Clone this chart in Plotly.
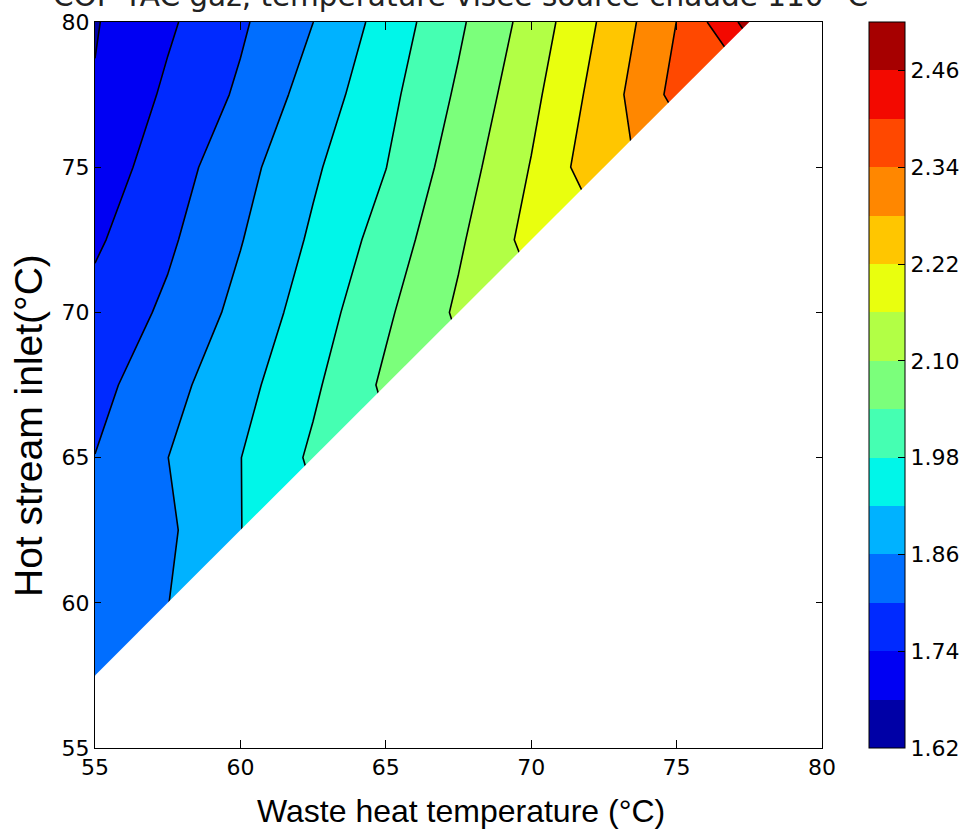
import plotly.graph_objects as go

# ---- data ----
waste_heat_temp = [55, 57.5, 60, 62.5, 65, 67.5, 70, 72.5, 75, 77.5, 80]
hot_stream_inlet = [55, 57.5, 60, 62.5, 65, 67.5, 70, 72.5, 75, 77.5, 80]

N = None
cop_y55 = [N, N, N, N, N, N, N, N, N, N, N]
cop_y57_5 = [1.840, N, N, N, N, N, N, N, N, N, N]
cop_y60 = [1.830, 1.859, N, N, N, N, N, N, N, N, N]
cop_y62_5 = [1.820, 1.850, 1.919, N, N, N, N, N, N, N, N]
cop_y65 = [1.801, 1.8595, 1.919, 1.990, N, N, N, N, N, N, N]
cop_y67_5 = [1.781, 1.840, 1.900, 1.970, 2.051, N, N, N, N, N, N]
cop_y70 = [1.759, 1.811, 1.877, 1.949, 2.030, 2.110, N, N, N, N, N]
cop_y72_5 = [1.731, 1.790, 1.857, 1.929, 2.005, 2.091, 2.181, N, N, N, N]
cop_y75 = [1.706, 1.771, 1.839, 1.911, 1.979, 2.070, 2.163, 2.268, N, N, N]
cop_y77_5 = [1.684, 1.750, 1.809, 1.886, 1.962, 2.049, 2.144, 2.250, 2.359, N, N]
cop_y80 = [1.676, 1.731, 1.791, 1.8597, 1.943, 2.030, 2.1235, 2.231, 2.3405, 2.482, N]

level_start = 1.62
level_end = 2.52
level_step = 0.06

cbar_tickvals = [1.62, 1.74, 1.86, 1.98, 2.10, 2.22, 2.34, 2.46]
cbar_ticktext = ["1.62", "1.74", "1.86", "1.98", "2.10", "2.22", "2.34", "2.46"]
axis_ticks = [55, 60, 65, 70, 75, 80]

band_colors = ["#0000a6", "#0000f3", "#002aff", "#006eff", "#00b2ff", "#00f6e9",
               "#45ffb2", "#7bff7b", "#b2ff45", "#e9ff0e", "#ffc600", "#ff8700",
               "#ff4800", "#f30900", "#a60000"]

title_text = "COP TAC gaz, température visée source chaude 110 °C"
x_title = "Waste heat temperature (°C)"
y_title = "Hot stream inlet(°C)"

# ---- build ----
z = [cop_y55, cop_y57_5, cop_y60, cop_y62_5, cop_y65, cop_y67_5,
     cop_y70, cop_y72_5, cop_y75, cop_y77_5, cop_y80]

nb = len(band_colors)
# colorbar scale (discrete, zmin..zmax)
cbar_scale = []
for i, c in enumerate(band_colors):
    cbar_scale.append([i / nb, c])
    cbar_scale.append([(i + 1) / nb, c])

# plotly contour 'fill' colour mapping: band midpoint m -> (m - (start - step/2)) / ((nlev)*step)
nlev = nb + 1
ext = [band_colors[0]] + band_colors + [band_colors[-1]]
contour_scale = []
for j, c in enumerate(ext):
    lo = max(0.0, (j - 0.5) / nlev)
    hi = min(1.0, (j + 0.5) / nlev)
    contour_scale.append([lo, c])
    contour_scale.append([hi, c])

# masked (no data) region polygon derived from the data grid
edge_x, edge_y = [], []
for i, xv in enumerate(waste_heat_temp):
    col = [hot_stream_inlet[j] for j in range(len(hot_stream_inlet)) if z[j][i] is not None]
    if col:
        edge_x.append(xv)
        edge_y.append(min(col))
poly_x = [waste_heat_temp[0]] + edge_x + [waste_heat_temp[-1], waste_heat_temp[-1], waste_heat_temp[0]]
poly_y = [hot_stream_inlet[0]] + edge_y + [hot_stream_inlet[-1], hot_stream_inlet[0], hot_stream_inlet[0]]

tick_font = dict(family="DejaVu Sans", size=22, color="black")

fig = go.Figure()

fig.add_trace(go.Heatmap(
    x=waste_heat_temp, y=hot_stream_inlet, z=z,
    zmin=level_start, zmax=level_end, colorscale=cbar_scale, opacity=0,
    hoverinfo="skip", showscale=True,
    colorbar=dict(
        x=(869 - 95) / 727, xanchor="left", xpad=0, ypad=0,
        y=0.5, yanchor="middle", len=1, lenmode="fraction",
        thickness=36, thicknessmode="pixels",
        outlinewidth=1, outlinecolor="black",
        tickvals=cbar_tickvals, ticktext=cbar_ticktext,
        ticks="inside", ticklen=7, tickcolor="black", tickwidth=1,
        tickfont=tick_font,
    ),
))

fig.add_trace(go.Contour(
    x=waste_heat_temp, y=hot_stream_inlet, z=z,
    autocontour=False,
    contours=dict(start=level_start, end=level_end, size=level_step,
                  coloring="fill", showlines=True),
    colorscale=contour_scale, showscale=False,
    line=dict(color="black", width=1.6, smoothing=0),
    hoverinfo="skip",
))

fig.add_trace(go.Scatter(
    x=poly_x, y=poly_y, mode="lines", fill="toself",
    fillcolor="white", line=dict(width=0, color="white"),
    hoverinfo="skip", showlegend=False,
))

axis_common = dict(
    range=[55, 80], tickvals=axis_ticks, ticks="inside", tickcolor="black",
    tickwidth=1, showline=True, linecolor="black", linewidth=1,
    mirror="ticks", showgrid=False, zeroline=False, tickfont=tick_font,
    automargin=False,
)

fig.update_layout(
    template="none",
    width=967, height=829,
    margin=dict(l=95, r=145, t=22, b=81, pad=0, autoexpand=False),
    paper_bgcolor="white", plot_bgcolor="white",
    showlegend=False,
    xaxis=dict(axis_common, ticklen=8),
    yaxis=dict(axis_common, ticklen=6),
    annotations=[
        dict(text=title_text, xref="paper", yref="paper",
             x=(460 - 95) / 727, y=1 + (22 - 15) / 726,
             xanchor="center", yanchor="bottom", showarrow=False,
             font=dict(family="DejaVu Sans", size=29.5, color="#222222")),
        dict(text=x_title, xref="paper", yref="paper",
             x=(461 - 95) / 727, y=-(811 - 748) / 726,
             xanchor="center", yanchor="middle", showarrow=False,
             font=dict(family="Liberation Sans, Arial", size=32, color="black")),
        dict(text=y_title, xref="paper", yref="paper",
             x=(28 - 95) / 727, y=(748 - 426) / 726,
             xanchor="center", yanchor="middle", showarrow=False, textangle=-90,
             font=dict(family="Liberation Sans, Arial", size=39, color="black")),
    ],
)

fig.write_html("out.html", config={"displayModeBar": False},
               post_script="document.body.style.margin='0px';")
